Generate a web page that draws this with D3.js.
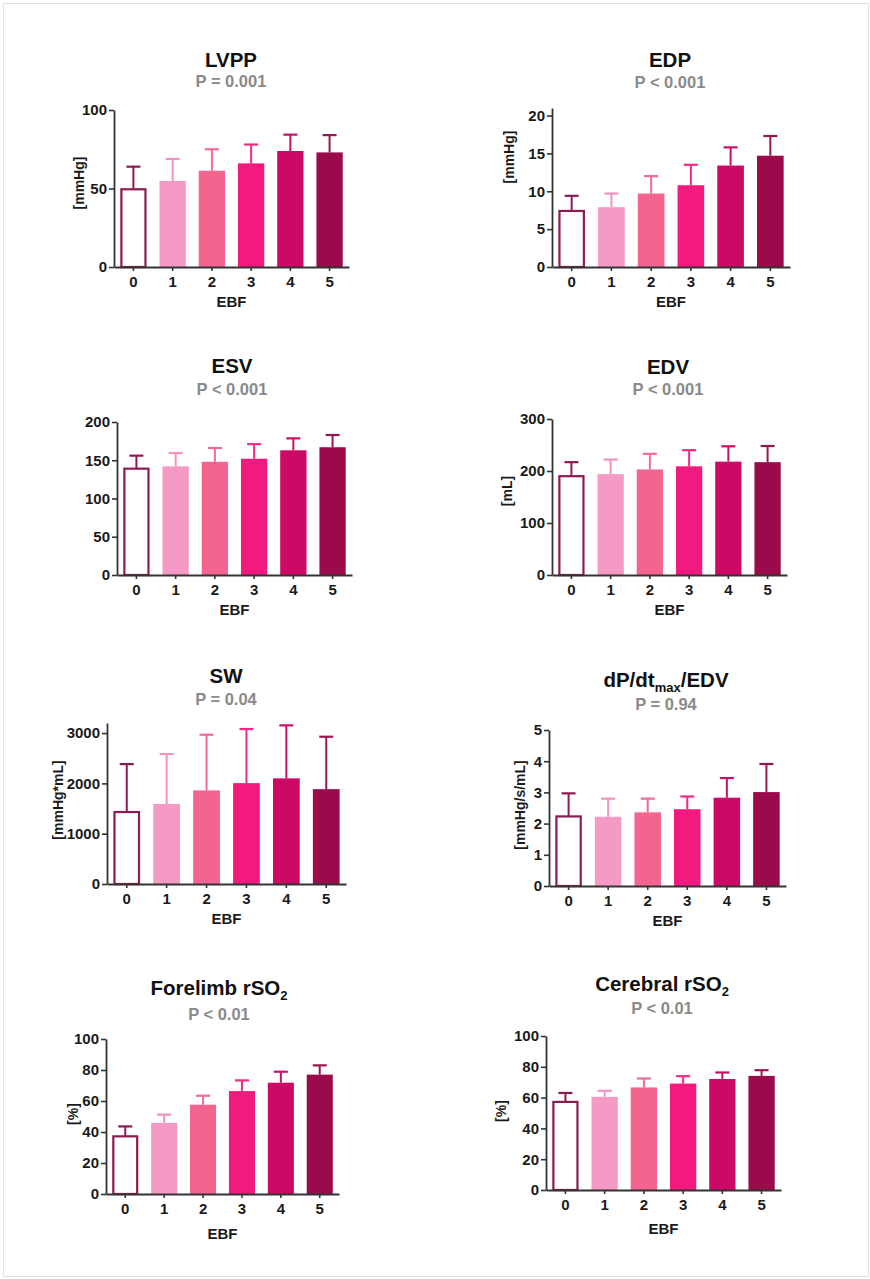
<!DOCTYPE html>
<html>
<head>
<meta charset="utf-8">
<script src="https://cdn.jsdelivr.net/npm/d3@7"></script>
<style>
  body { margin: 0; background: #ffffff; }
  svg text { font-family: "Liberation Sans", Arial, Helvetica, sans-serif; font-weight: bold; }
</style>
</head>
<body>
<svg id="fig" width="870" height="1279"></svg>
<script>
// EBF groups shared by every panel
const groups = ["0", "1", "2", "3", "4", "5"];
const groupFills = ["#ffffff", "#f59ac4", "#f3648f", "#f2197f", "#cd0966", "#9b0a4b"];
const groupLines = ["#8c1b53", "#f392c0", "#f26a95", "#f12a86", "#c90f66", "#981650"];

// Means and SD (upper error bars) per measurement
const lvppMean = [49.5, 54.8, 61.3, 66.0, 73.9, 73.0];
const lvppSD   = [14.4, 14.0, 13.7, 12.0, 10.4, 11.0];
const edpMean  = [7.4, 7.9, 9.7, 10.8, 13.4, 14.7];
const edpSD    = [2.0, 1.8, 2.3, 2.7, 2.4, 2.6];
const esvMean  = [139, 142, 148, 152, 163, 167];
const esvSD    = [17, 17.5, 18, 19, 15.6, 16];
const edvMean  = [190, 194, 203, 209, 218, 217];
const edvSD    = [27, 28, 30, 31, 29.5, 31];
const swMean   = [1430, 1590, 1860, 2005, 2100, 1885];
const swSD     = [953, 993, 1107, 1075, 1053, 1042];
const dpMean   = [2.23, 2.22, 2.36, 2.46, 2.83, 3.01];
const dpSD     = [0.74, 0.58, 0.44, 0.41, 0.63, 0.90];
const limbMean = [37.2, 45.8, 57.6, 66.4, 71.8, 77.0];
const limbSD   = [6.4, 5.4, 5.8, 6.9, 7.1, 6.0];
const cereMean = [57.2, 60.5, 66.6, 69.1, 72.1, 74.1];
const cereSD   = [5.8, 3.9, 5.8, 4.8, 4.2, 3.7];

// Titles: [main text, subscript, trailing text]
const titles = [
  ["LVPP", "", ""], ["EDP", "", ""], ["ESV", "", ""], ["EDV", "", ""],
  ["SW", "", ""], ["dP/dt", "max", "/EDV"], ["Forelimb rSO", "2", ""], ["Cerebral rSO", "2", ""]
];
const pLabels = ["P = 0.001", "P < 0.001", "P < 0.001", "P < 0.001", "P = 0.04", "P = 0.94", "P < 0.01", "P < 0.01"];
const unitLabels = ["[mmHg]", "[mmHg]", "", "[mL]", "[mmHg*mL]", "[mmHg/s/mL]", "[%]", "[%]"];
const yMaxes = [100, 21, 200, 300, 3200, 5, 100, 100];
const yTickSets = [
  [0, 50, 100], [0, 5, 10, 15, 20], [0, 50, 100, 150, 200], [0, 100, 200, 300],
  [0, 1000, 2000, 3000], [0, 1, 2, 3, 4, 5], [0, 20, 40, 60, 80, 100], [0, 20, 40, 60, 80, 100]
];
const means = [lvppMean, edpMean, esvMean, edvMean, swMean, dpMean, limbMean, cereMean];
const sds = [lvppSD, edpSD, esvSD, edvSD, swSD, dpSD, limbSD, cereSD];

// Panel placement on the page
const layout = [
  { ax: 114, w: 235, y0: 267,  top: 110,  tx: 231, ty: 67,  py: 87,   ux: 79,  uy: 183,  ebf: 40 },
  { ax: 552, w: 238, y0: 267,  top: 108,  tx: 670, ty: 67,  py: 88,   ux: 509, uy: 157,  ebf: 40 },
  { ax: 117, w: 235, y0: 575,  top: 422,  tx: 232, ty: 373, py: 395,  ux: 0,   uy: 0,    ebf: 40 },
  { ax: 552, w: 235, y0: 575,  top: 419,  tx: 668, ty: 374, py: 395,  ux: 507, uy: 491,  ebf: 40 },
  { ax: 107, w: 239, y0: 884,  top: 723,  tx: 226, ty: 683, py: 705,  ux: 58,  uy: 800,  ebf: 40 },
  { ax: 549, w: 237, y0: 886,  top: 730,  tx: 666, ty: 687, py: 710,  ux: 520, uy: 805,  ebf: 40 },
  { ax: 106, w: 233, y0: 1194, top: 1039, tx: 219, ty: 995, py: 1020, ux: 73,  uy: 1114, ebf: 45 },
  { ax: 546, w: 235, y0: 1190, top: 1036, tx: 662, ty: 991, py: 1014, ux: 501, uy: 1111, ebf: 44 }
];

const svg = d3.select("#fig");
const axisColor = "#333333";

// thin page frame
svg.append("rect")
  .attr("x", 3.5).attr("y", 3.5).attr("width", 865).attr("height", 1273)
  .attr("fill", "none").attr("stroke", "#e2e2e2").attr("stroke-width", 1);

layout.forEach((L, i) => {
  const g = svg.append("g");
  const x = d3.scaleBand().domain(groups).range([L.ax, L.ax + L.w])
    .paddingInner(0.33).paddingOuter(0.16);
  const y = d3.scaleLinear().domain([0, yMaxes[i]]).range([L.y0, L.top]);
  const rows = groups.map((k, j) => ({ k, j, m: means[i][j], s: sds[i][j] }));

  // error bars (upper only)
  const capHalf = 7;
  const eb = g.append("g");
  rows.forEach(d => {
    const cx = x(d.k) + x.bandwidth() / 2;
    eb.append("line")
      .attr("x1", cx).attr("x2", cx)
      .attr("y1", y(d.m)).attr("y2", y(d.m + d.s))
      .attr("stroke", groupLines[d.j]).attr("stroke-width", 2);
    eb.append("line")
      .attr("x1", cx - capHalf).attr("x2", cx + capHalf)
      .attr("y1", y(d.m + d.s)).attr("y2", y(d.m + d.s))
      .attr("stroke", groupLines[d.j]).attr("stroke-width", 2.2);
  });

  // bars
  g.append("g").selectAll("rect").data(rows).join("rect")
    .attr("x", d => x(d.k) + (d.j === 0 ? 1.1 : 0))
    .attr("width", d => x.bandwidth() - (d.j === 0 ? 2.2 : 0))
    .attr("y", d => y(d.m))
    .attr("height", d => L.y0 - y(d.m))
    .attr("fill", d => groupFills[d.j])
    .attr("stroke", d => d.j === 0 ? groupLines[0] : "none")
    .attr("stroke-width", 2.2);

  // y axis
  const ya = g.append("g").attr("transform", `translate(${L.ax},0)`)
    .call(d3.axisLeft(y).tickValues(yTickSets[i]).tickFormat(d3.format("d"))
      .tickSize(5).tickSizeOuter(0).tickPadding(2));
  // x axis
  const xa = g.append("g").attr("transform", `translate(0,${L.y0})`)
    .call(d3.axisBottom(x).tickSize(4).tickSizeOuter(0).tickPadding(5));
  [ya, xa].forEach(a => {
    a.select(".domain").attr("stroke", axisColor).attr("stroke-width", 1.8);
    a.selectAll(".tick line").attr("stroke", axisColor).attr("stroke-width", 1.6);
    a.selectAll(".tick text").attr("fill", "#1a1a1a")
      .style("font-family", "'Liberation Sans', Arial, sans-serif")
      .style("font-weight", "bold").style("font-size", "15px");
  });

  // x axis title
  g.append("text").attr("x", L.ax + L.w / 2).attr("y", L.y0 + L.ebf)
    .attr("text-anchor", "middle").attr("font-size", 15).attr("fill", "#1a1a1a").text("EBF");

  // y axis unit
  if (unitLabels[i]) {
    g.append("text").attr("transform", `translate(${L.ux},${L.uy}) rotate(-90)`)
      .attr("text-anchor", "middle").attr("dy", "0.35em")
      .attr("font-size", 14).attr("fill", "#1a1a1a").text(unitLabels[i]);
  }

  // title with optional subscript
  const t = g.append("text").attr("x", L.tx).attr("y", L.ty)
    .attr("text-anchor", "middle").attr("font-size", 20.5).attr("fill", "#111111");
  t.append("tspan").text(titles[i][0]);
  if (titles[i][1]) {
    t.append("tspan").attr("font-size", 13).attr("dy", 5).text(titles[i][1]);
    if (titles[i][2]) t.append("tspan").attr("dy", -5).text(titles[i][2]);
  }

  // p-value line
  g.append("text").attr("x", L.tx).attr("y", L.py)
    .attr("text-anchor", "middle").attr("font-size", 16.5).attr("fill", "#8a8a8a")
    .text(pLabels[i]);
});
</script>
</body>
</html>
